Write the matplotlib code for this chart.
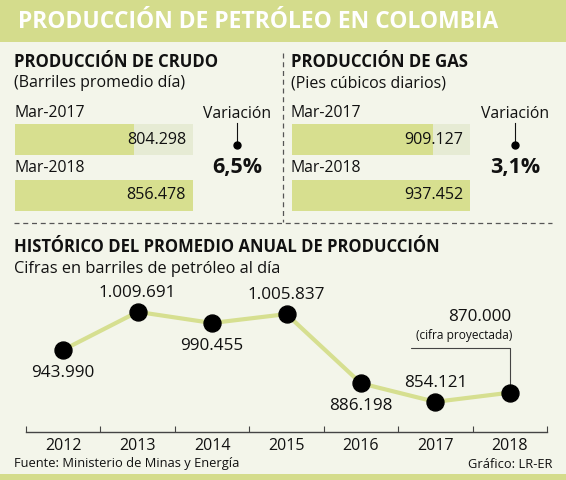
import matplotlib
matplotlib.use("Agg")
import matplotlib.pyplot as plt
from matplotlib import font_manager
from matplotlib.patches import Rectangle

# data
crudo_periods = ["Mar-2017", "Mar-2018"]
crudo_values = [804298, 856478]
gas_periods = ["Mar-2017", "Mar-2018"]
gas_values = [909127, 937452]

years = ["2012", "2013", "2014", "2015", "2016", "2017", "2018"]
hist_values = [943990, 1009691, 990455, 1005837, 886198, 854121, 870000]
label_side = ["below", "above", "below", "above", "below", "above", "note"]

# style
BG = "#f3f5ea"
BAND = "#d4dc8c"
FILL = "#d7df8f"
TRACK = "#e6ebd4"
LINE = "#d6df90"
INK = "#111111"
GREY = "#555555"

W, H = 566, 480
plt.rcParams["font.family"] = "Open Sans"
names = {f.name for f in font_manager.fontManager.ttflist}
NARROW = "Liberation Sans Narrow" if "Liberation Sans Narrow" in names else "Open Sans"


def fmt(v):
    return format(v, ",.0f").replace(",", ".")


def pct(a, b):
    return format((b / a - 1) * 100, ".1f").replace(".", ",") + "%"


def px_axes(x0, y0, x1, y1):
    return fig.add_axes([x0 / W, 1 - y1 / H, (x1 - x0) / W, (y1 - y0) / H])


fig = plt.figure(figsize=(W / 100, H / 100), dpi=100)
fig.patch.set_facecolor(BG)

bg = fig.add_axes([0, 0, 1, 1])
bg.set_xlim(0, W)
bg.set_ylim(H, 0)
bg.axis("off")

# title band
bg.add_patch(Rectangle((0, 0), W, 42, color=BAND, lw=0))
bg.text(18, 22, "PRODUCCIÓN DE PETRÓLEO EN COLOMBIA", color="white",
        fontsize=16.5, fontweight="bold", va="center", ha="left")
bg.add_patch(Rectangle((0, 474), W, 6, color=BAND, lw=0))

# separators
bg.plot([283, 283], [53, 222], ls=(0, (4, 3)), color=GREY, lw=0.9)
bg.plot([14, 552], [223, 223], ls=(0, (4, 3)), color=GREY, lw=0.9)

panels = [
    (14, "PRODUCCIÓN DE CRUDO", "(Barriles promedio día)",
     crudo_periods, crudo_values, 700000, 237),
    (291, "PRODUCCIÓN DE GAS", "(Pies cúbicos diarios)",
     gas_periods, gas_values, 800000, 515),
]

for x0, head, sub, periods, vals, base, cx in panels:
    bg.text(x0, 62, head, fontsize=12.1, fontweight="bold", color=INK,
            va="center", ha="left")
    bg.text(x0, 83, sub, fontsize=11.5, color=INK, va="center", ha="left")
    for i, p in enumerate(periods):
        bg.text(x0, 113 + 55 * i, p, fontsize=11.3, color=INK, va="center",
                ha="left")

    ax = px_axes(x0 + 1, 124, x0 + 179, 211)
    top = max(vals)
    ax.barh(range(len(vals)), [top - base] * len(vals), left=base,
            height=0.554, color=TRACK, lw=0)
    ax.barh(range(len(vals)), [v - base for v in vals], left=base,
            height=0.554, color=FILL, lw=0)
    for i, v in enumerate(vals):
        ax.annotate(fmt(v), xy=(1, i), xycoords=("axes fraction", "data"),
                    xytext=(-5, 0), textcoords="offset points",
                    ha="right", va="center", fontsize=11.6, color=INK)
    ax.set_xlim(base, top)
    ax.set_ylim(1.277, -0.277)
    ax.axis("off")

    bg.text(cx, 114, "Variación", fontsize=11.3, color=INK, ha="center",
            va="center")
    bg.plot([cx, cx], [123, 142], color=INK, lw=0.8)
    bg.plot(cx, 145, "o", ms=5, color="black")
    bg.text(cx, 167, pct(vals[0], vals[1]), fontsize=15.5, fontweight="bold",
            color=INK, ha="center", va="center")

# historical section
bg.text(14, 247, "HISTÓRICO DEL PROMEDIO ANUAL DE PRODUCCIÓN", fontsize=12,
        fontweight="bold", color=INK, va="center", ha="left")
bg.text(14, 269, "Cifras en barriles de petróleo al día", fontsize=11.8,
        color=INK, va="center", ha="left")

ax = px_axes(26, 290, 547, 432)
ax.set_facecolor("none")
x = list(range(len(years)))
ax.plot(x, hist_values, color=LINE, lw=3, zorder=2)
ax.plot(x, hist_values, "o", ms=12.2, color="black", zorder=3)

for i, (v, side) in enumerate(zip(hist_values, label_side)):
    if side == "above":
        ax.annotate(fmt(v), xy=(i, v), xytext=(0, 13.5),
                    textcoords="offset points", ha="center", va="center",
                    fontsize=12.3, color=INK)
    elif side == "below":
        ax.annotate(fmt(v), xy=(i, v), xytext=(0, -16.5),
                    textcoords="offset points", ha="center", va="center",
                    fontsize=12.3, color=INK)
    else:
        ax.annotate(fmt(v), xy=(i, v), xytext=(1, 54.5),
                    textcoords="offset points", ha="right", va="center",
                    fontsize=12.3, color=INK)
        ax.annotate("(cifra proyectada)", xy=(i, v), xytext=(-33, 41.5),
                    textcoords="offset points", ha="center", va="center",
                    fontsize=11 if NARROW != "Open Sans" else 8.6,
                    family=[NARROW, "Open Sans"], color=INK)
        ax.annotate("", xy=(i, v), xytext=(-71, 32.5),
                    textcoords="offset points", zorder=1,
                    arrowprops=dict(arrowstyle="-", color="#444444", lw=0.8,
                                    shrinkA=0, shrinkB=0,
                                    connectionstyle="angle,angleA=0,angleB=90,rad=0"))

ax.set_xlim(-0.5, len(years) - 0.5)
ax.set_ylim(802000, 1047500)
for s in ["top", "left", "right"]:
    ax.spines[s].set_visible(False)
ax.spines["bottom"].set_color("#444444")
ax.spines["bottom"].set_linewidth(1)
ax.set_yticks([])
ax.set_xticks(x, years)
ax.set_xticks([i - 0.5 for i in range(len(years) + 1)], minor=True)
ax.tick_params(axis="x", which="major", length=0, pad=4, labelsize=11.5,
               labelcolor=INK)
ax.tick_params(axis="x", which="minor", direction="in", length=4.5,
               width=0.8, color="#444444")

bg.text(14, 464, "Fuente: Ministerio de Minas y Energía", fontsize=9.3,
        color=INK, va="center", ha="left")
bg.text(552, 464, "Gráfico: LR-ER", fontsize=9.3, color=INK, va="center",
        ha="right")

fig.savefig("out.png", dpi=100, facecolor=BG)
